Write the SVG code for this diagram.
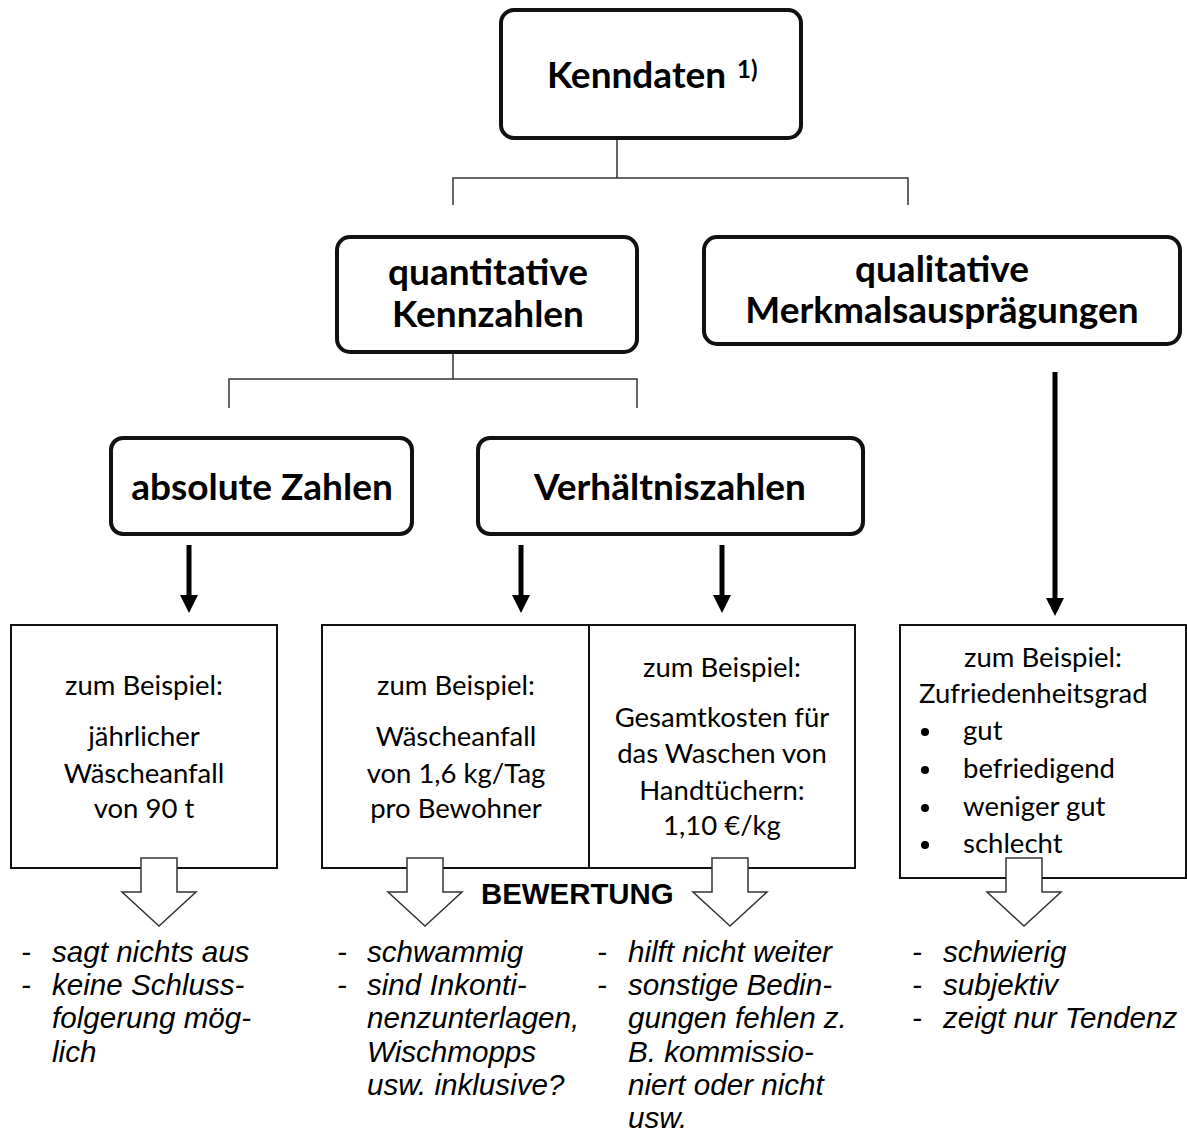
<svg xmlns="http://www.w3.org/2000/svg" width="1187" height="1135" viewBox="0 0 1187 1135">
<style>
  .node { fill: #fff; stroke: #111; stroke-width: 4; }
  .box { fill: #fff; stroke: #111; stroke-width: 2; }
  .t-bold { font-family: Lato, "Liberation Sans", sans-serif; font-weight: 700; font-size: 37px; fill: #000; text-anchor: middle; }
  .t-reg { font-family: Lato, "Liberation Sans", sans-serif; font-size: 27.5px; fill: #000; text-anchor: middle; }
  .t-left { text-anchor: start; }
  .t-it { font-family: "Liberation Sans", Arial, sans-serif; font-style: italic; font-size: 29.6px; fill: #000; }
  .t-head { font-family: "Liberation Sans", Arial, sans-serif; font-weight: 700; font-size: 29.4px; fill: #000; }
  .tree { fill: none; stroke: #333; stroke-width: 1.5; }
  .thick { stroke: #000; stroke-width: 5; marker-end: url(#ah); }
  .hollow { fill: #fff; stroke: #333; stroke-width: 1.5; stroke-linejoin: miter; }
</style>
<defs>
  <marker id="ah" markerUnits="userSpaceOnUse" markerWidth="18" markerHeight="18" viewBox="0 0 18 18" refX="5" refY="9" orient="auto">
    <path d="M0,0 L18,9 L0,18 z" fill="#000"/>
  </marker>
  <polygon id="hollowArrow" points="-18,0 18,0 18,34 37,34 0,68 -37,34 -18,34"/>
</defs>

<g id="connectors">
  <path class="tree" d="M617,139 V178 M453,205 V178 H908 V205"/>
  <path class="tree" d="M453,352 V379 M229,408 V379 H637 V408"/>
  <line class="thick" x1="189" y1="545" x2="189" y2="600"/>
  <line class="thick" x1="521" y1="545" x2="521" y2="600"/>
  <line class="thick" x1="722" y1="545" x2="722" y2="600"/>
  <line class="thick" x1="1055" y1="372" x2="1055" y2="603"/>
</g>

<g id="node-kenndaten">
  <rect class="node" x="501" y="10" width="300" height="128" rx="13"/>
  <text class="t-bold" x="636.5" y="88">Kenndaten</text>
  <text class="t-bold t-left" x="737" y="78" style="font-size:24px">1)</text>
</g>

<g id="node-quantitativ">
  <rect class="node" x="337" y="237" width="300" height="115" rx="13"/>
  <text class="t-bold" x="488" y="285">quantitative</text>
  <text class="t-bold" x="488" y="327">Kennzahlen</text>
</g>

<g id="node-qualitativ">
  <rect class="node" x="704" y="237" width="476" height="107" rx="13"/>
  <text class="t-bold" x="942" y="282">qualitative</text>
  <text class="t-bold" x="942" y="323">Merkmalsausprägungen</text>
</g>

<g id="node-absolut">
  <rect class="node" x="111" y="438" width="301" height="96" rx="12"/>
  <text class="t-bold" x="262" y="500">absolute Zahlen</text>
</g>

<g id="node-verhaeltnis">
  <rect class="node" x="478" y="438" width="385" height="96" rx="12"/>
  <text class="t-bold" x="670" y="500">Verhältniszahlen</text>
</g>

<g id="box-absolut">
  <rect class="box" x="11" y="625" width="266" height="243"/>
  <text class="t-reg" x="144" y="695">zum Beispiel:</text>
  <text class="t-reg" x="144" y="746">jährlicher</text>
  <text class="t-reg" x="144" y="783">Wäscheanfall</text>
  <text class="t-reg" x="144" y="818">von 90 t</text>
</g>

<g id="box-verhaeltnis">
  <rect class="box" x="322" y="625" width="533" height="243"/>
  <line class="box" x1="589" y1="625" x2="589" y2="868"/>
  <text class="t-reg" x="456" y="695">zum Beispiel:</text>
  <text class="t-reg" x="456" y="746">Wäscheanfall</text>
  <text class="t-reg" x="456" y="783">von 1,6 kg/Tag</text>
  <text class="t-reg" x="456" y="818">pro Bewohner</text>
  <text class="t-reg" x="722" y="677">zum Beispiel:</text>
  <text class="t-reg" x="722" y="727">Gesamtkosten für</text>
  <text class="t-reg" x="722" y="763">das Waschen von</text>
  <text class="t-reg" x="722" y="800">Handtüchern:</text>
  <text class="t-reg" x="722" y="835">1,10 €/kg</text>
</g>

<g id="box-qualitativ">
  <rect class="box" x="900" y="625" width="286" height="253"/>
  <text class="t-reg" x="1043" y="667">zum Beispiel:</text>
  <text class="t-reg t-left" x="919" y="703">Zufriedenheitsgrad</text>
  <circle cx="925" cy="732" r="4" fill="#000"/>
  <circle cx="925" cy="770" r="4" fill="#000"/>
  <circle cx="925" cy="808" r="4" fill="#000"/>
  <circle cx="925" cy="845" r="4" fill="#000"/>
  <text class="t-reg t-left" x="963" y="740">gut</text>
  <text class="t-reg t-left" x="963" y="778">befriedigend</text>
  <text class="t-reg t-left" x="963" y="816">weniger gut</text>
  <text class="t-reg t-left" x="963" y="853">schlecht</text>
</g>

<g id="bewertung-arrows">
  <use href="#hollowArrow" class="hollow" x="159" y="858"/>
  <use href="#hollowArrow" class="hollow" x="425" y="858"/>
  <use href="#hollowArrow" class="hollow" x="730" y="858"/>
  <use href="#hollowArrow" class="hollow" x="1024" y="858"/>
  <text class="t-head" x="481" y="904">BEWERTUNG</text>
</g>

<g id="eval-absolut" class="t-it">
  <text x="21" y="962">-</text><text x="52" y="962">sagt nichts aus</text>
  <text x="21" y="995">-</text><text x="52" y="995">keine Schluss-</text>
  <text x="52" y="1028">folgerung mög-</text>
  <text x="52" y="1062">lich</text>
</g>

<g id="eval-verhaeltnis-1" class="t-it">
  <text x="337" y="962">-</text><text x="367" y="962">schwammig</text>
  <text x="337" y="995">-</text><text x="367" y="995">sind Inkonti-</text>
  <text x="367" y="1028">nenzunterlagen,</text>
  <text x="367" y="1062">Wischmopps</text>
  <text x="367" y="1095">usw. inklusive?</text>
</g>

<g id="eval-verhaeltnis-2" class="t-it">
  <text x="597" y="962">-</text><text x="628" y="962">hilft nicht weiter</text>
  <text x="597" y="995">-</text><text x="628" y="995">sonstige Bedin-</text>
  <text x="628" y="1028">gungen fehlen z.</text>
  <text x="628" y="1062">B. kommissio-</text>
  <text x="628" y="1095">niert oder nicht</text>
  <text x="628" y="1128">usw.</text>
</g>

<g id="eval-qualitativ" class="t-it">
  <text x="912" y="962">-</text><text x="943" y="962">schwierig</text>
  <text x="912" y="995">-</text><text x="943" y="995">subjektiv</text>
  <text x="912" y="1028">-</text><text x="943" y="1028">zeigt nur Tendenz</text>
</g>
</svg>
